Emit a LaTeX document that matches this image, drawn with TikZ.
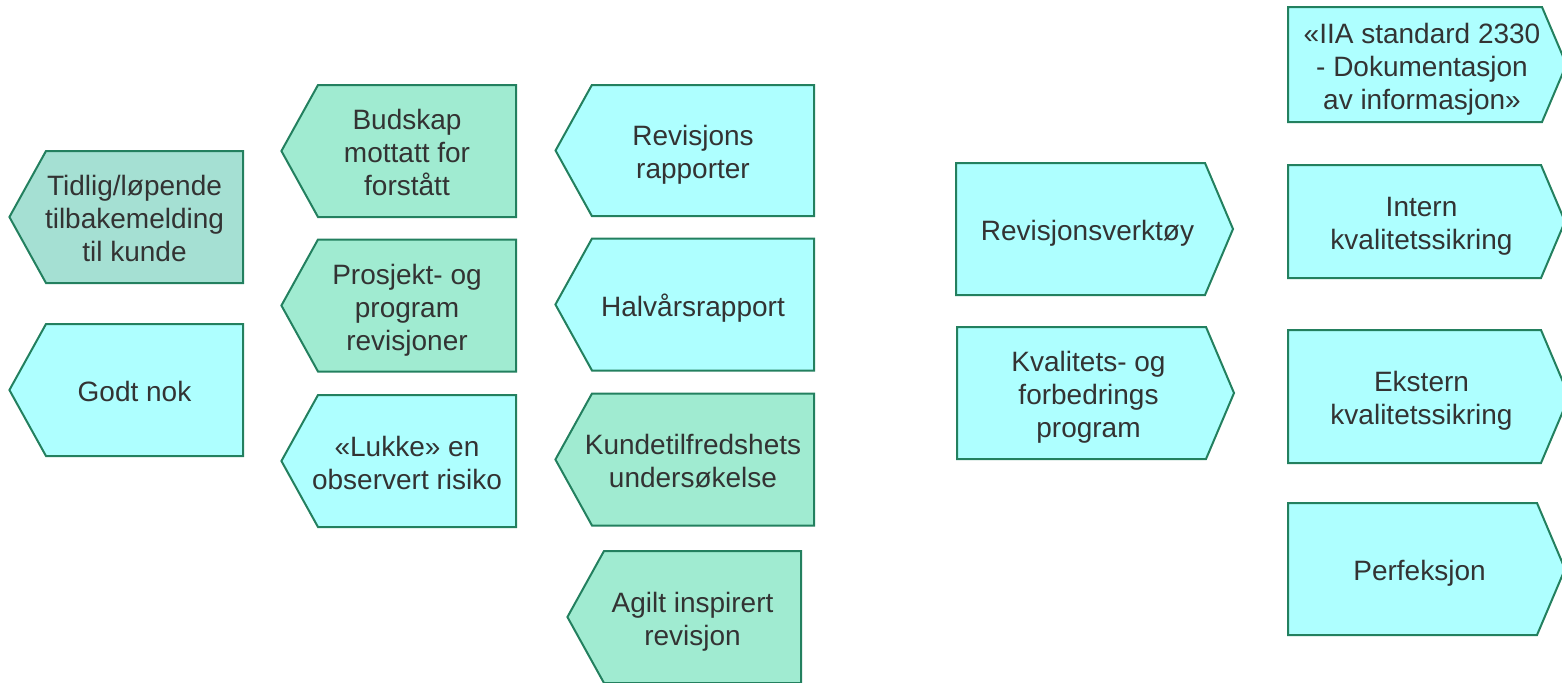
\documentclass[tikz,border=0pt]{standalone}
\usepackage{fontspec}
\setmainfont{Liberation Sans}
\usetikzlibrary{shapes.symbols}
\definecolor{randgroenn}{HTML}{23805F}
\definecolor{lyscyan}{HTML}{AEFFFF}
\definecolor{mynte}{HTML}{A0EBD1}
\definecolor{dempet}{HTML}{A5E0D3}
\definecolor{tekst}{HTML}{333333}
% tekst litt forskjøvet mot spissen og litt ned
\newcommand{\pilt}[2]{\hbox{\kern#1\vbox{\kern5pt\hbox{\begin{tabular}{@{}c@{}}#2\end{tabular}}}\kern-#1}}
\tikzset{
  pil/.style={signal, draw=randgroenn, line width=1pt, text=tekst,
    font=\fontsize{14}{16.5}\selectfont, inner sep=0pt, minimum height=66pt},
  venstre/.style={pil, signal to=west, signal pointer angle=122},
  hoyre/.style={pil, signal to=east, signal pointer angle=134},
}
\begin{document}
\begin{tikzpicture}[x=0.5pt, y=-0.5pt]
    \useasboundingbox (0,0) rectangle (1562,682);
    % venstre kolonne
    \node[venstre, fill=dempet, minimum width=116.8pt] (tidlig) at (144.5,217) {\pilt{-5pt}{Tidlig/løpende\\tilbakemelding\\til kunde}};
    \node[venstre, fill=lyscyan, minimum width=116.8pt] (godt) at (144.5,390) {\pilt{-5pt}{Godt nok}};
    % andre kolonne
    \node[venstre, fill=mynte, minimum width=117.3pt] (budskap) at (417,151) {\pilt{-5pt}{Budskap\\mottatt for\\forstått}};
    \node[venstre, fill=mynte, minimum width=117.3pt] (prosjekt) at (417,305.5) {\pilt{-5pt}{Prosjekt- og\\program\\revisjoner}};
    \node[venstre, fill=lyscyan, minimum width=117.3pt] (lukke) at (417,461) {\pilt{-5pt}{«Lukke» en\\observert risiko}};
    % tredje kolonne
    \node[venstre, fill=lyscyan, minimum width=129.3pt, minimum height=65.5pt] (rapporter) at (703,150.5) {\pilt{-5pt}{Revisjons\\rapporter}};
    \node[venstre, fill=lyscyan, minimum width=129.3pt] (halvaar) at (703,304.5) {\pilt{-5pt}{Halvårsrapport}};
    \node[venstre, fill=mynte, minimum width=129.3pt] (kunde) at (703,459.5) {\pilt{-5pt}{Kundetilfredshets\\undersøkelse}};
    \node[venstre, fill=mynte, minimum width=116.8pt] (agilt) at (702.5,617) {\pilt{-5pt}{Agilt inspirert\\revisjon}};
    % hoyre side
    \node[hoyre, fill=lyscyan, minimum width=138.5pt] (verktoy) at (1080.5,229) {\pilt{3.5pt}{Revisjonsverktøy}};
    \node[hoyre, fill=lyscyan, minimum width=138.5pt] (kvalitet) at (1081.5,393) {\pilt{3.5pt}{Kvalitets- og\\forbedrings\\program}};
    \node[hoyre, fill=lyscyan, minimum width=139.2pt, minimum height=57.5pt] (iia) at (1415,64.5) {\pilt{3.5pt}{«IIA standard 2330\\- Dokumentasjon\\av informasjon»}};
    \node[hoyre, fill=lyscyan, minimum width=138.5pt, minimum height=56.5pt] (intern) at (1414.5,221.5) {\pilt{3.5pt}{Intern\\kvalitetssikring}};
    \node[hoyre, fill=lyscyan, minimum width=140.6pt, minimum height=66.5pt] (ekstern) at (1414.5,396.5) {\pilt{3.5pt}{Ekstern\\kvalitetssikring}};
    \node[hoyre, fill=lyscyan, minimum width=138.5pt] (perfeksjon) at (1412.5,569) {\pilt{3.5pt}{Perfeksjon}};
\end{tikzpicture}
\end{document}
